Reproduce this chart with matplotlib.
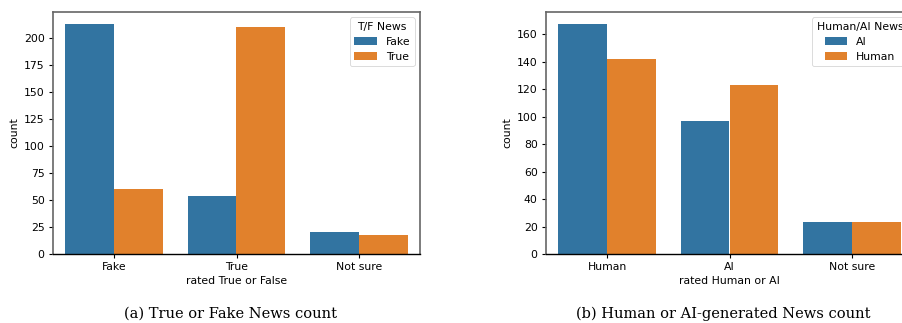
import numpy as np
from matplotlib import pyplot as plt

# panel (a): rated True or False, split by real news label
tf_categories = ['Fake', 'True', 'Not sure']
tf_fake = [213, 54, 20]
tf_true = [60, 210, 18]

# panel (b): rated Human or AI, split by real source
ha_categories = ['Human', 'AI', 'Not sure']
ha_ai = [168, 97, 23]
ha_human = [142, 123, 23]

BLUE = '#3274a1'
ORANGE = '#e1812c'
FS = 7.8


def count_panel(ax, cats, first, second, names, title, xlabel):
    x = np.arange(len(cats))
    w = 0.4
    ax.bar(x - w / 2, first, w, color=BLUE, label=names[0])
    ax.bar(x + w / 2, second, w, color=ORANGE, label=names[1])
    ax.set_xlim(-0.5, len(cats) - 0.5)
    ax.set_ylim(0, max(max(first), max(second)) * 1.05)
    ax.set_xticks(x)
    ax.set_xticklabels(cats)
    ax.tick_params(labelsize=FS, length=3, width=0.8, pad=3)
    ax.set_xlabel(xlabel, fontsize=FS, labelpad=3)
    ax.set_ylabel('count', fontsize=FS, labelpad=3)
    for side in ['top', 'left', 'right']:
        ax.spines[side].set_color('#666666')
        ax.spines[side].set_linewidth(1.2)
    ax.spines['bottom'].set_color('black')
    ax.spines['bottom'].set_linewidth(1.0)
    leg = ax.legend(title=title, loc='upper right', fontsize=FS,
                    title_fontsize=FS, handlelength=2.1, handleheight=0.8,
                    borderpad=0.4, labelspacing=0.45, framealpha=0.8)
    leg.get_frame().set_linewidth(0.6)


fig = plt.figure(figsize=(9.02, 3.23), dpi=100)
ax1 = fig.add_axes([53 / 902, 1 - 254 / 323, 367 / 902, 242 / 323])
ax2 = fig.add_axes([546 / 902, 1 - 254 / 323, 367 / 902, 242 / 323])

count_panel(ax1, tf_categories, tf_fake, tf_true, ['Fake', 'True'],
            'T/F News', 'rated True or False')
count_panel(ax2, ha_categories, ha_ai, ha_human, ['AI', 'Human'],
            'Human/AI News', 'rated Human or AI')

cap = {'fontfamily': 'DejaVu Serif', 'fontsize': 10.5, 'ha': 'center', 'va': 'center'}
fig.text(231 / 902, 1 - 314 / 323, '(a) True or Fake News count', **cap)
fig.text(723 / 902, 1 - 314 / 323, '(b) Human or AI-generated News count', **cap)

fig.savefig('out.png', dpi=100)
